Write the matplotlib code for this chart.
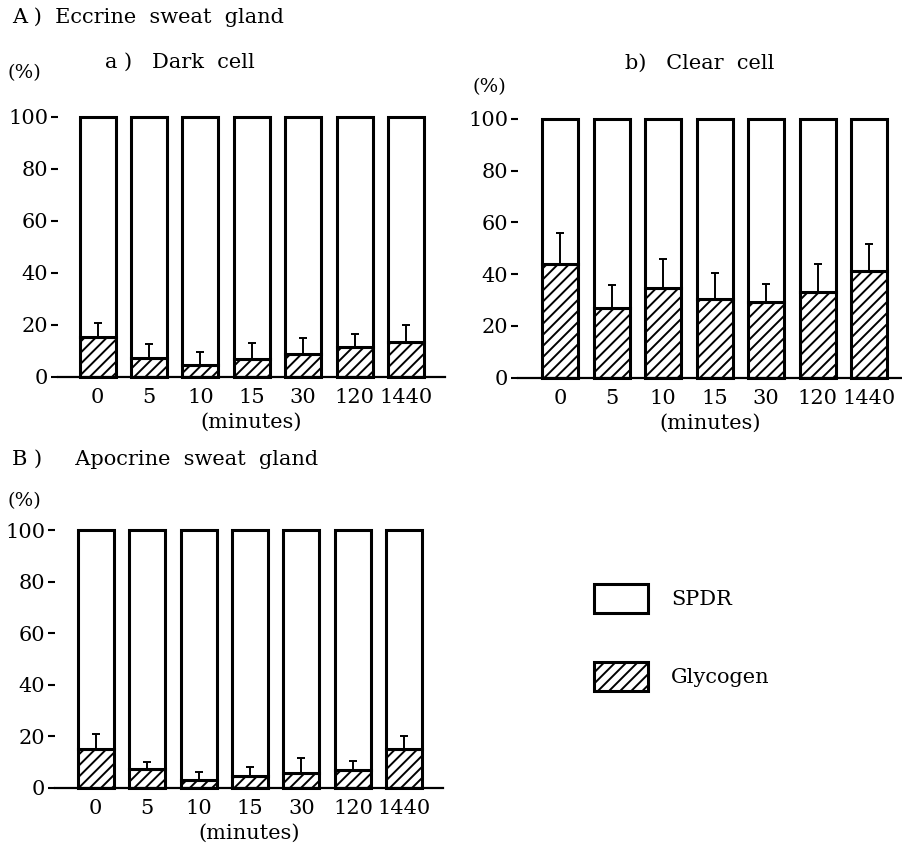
import matplotlib
matplotlib.use("Agg")
import matplotlib.pyplot as plt
from matplotlib.patches import Patch

plt.rcParams['font.family'] = ['DejaVu Serif']
plt.rcParams['hatch.linewidth'] = 1.4

categories = ["0", "5", "10", "15", "30", "120", "1440"]

glyc_dark = [15.4, 7.3, 4.5, 7.0, 8.7, 11.5, 13.2]
sd_dark = [5.4, 5.3, 5.1, 6.1, 6.1, 5.0, 6.7]

glyc_clear = [43.8, 27.1, 34.5, 30.5, 29.3, 33.2, 41.2]
sd_clear = [12.0, 8.6, 11.4, 10.1, 6.9, 10.9, 10.5]

glyc_apo = [14.9, 7.1, 2.8, 4.7, 5.8, 6.7, 14.9]
sd_apo = [5.9, 3.0, 3.2, 3.2, 5.7, 3.6, 5.3]

total = 100
yticks = [0, 20, 40, 60, 80, 100]

W, H = 903, 857
fig = plt.figure(figsize=(W / 100, H / 100), dpi=100)


def px_axes(left, right, y0, y100):
    return fig.add_axes([left / W, 1 - y0 / H, (right - left) / W, (y0 - y100) / H])


def draw_panel(ax, glyc, sd, xlim):
    x = list(range(len(categories)))
    spdr = [total - g for g in glyc]
    ax.bar(x, glyc, width=0.7, color='white', edgecolor='black',
           linewidth=2.2, hatch='///', clip_on=False, zorder=2)
    ax.bar(x, spdr, bottom=glyc, width=0.7, color='white', edgecolor='black',
           linewidth=2.2, clip_on=False, zorder=2)
    ax.errorbar(x, glyc, yerr=[[0] * len(sd), sd], fmt='none', ecolor='black',
                elinewidth=1.4, capsize=3, capthick=1.4, zorder=3, clip_on=False)
    ax.set_xlim(*xlim)
    ax.set_ylim(0, 100)
    for s in ['top', 'right', 'left']:
        ax.spines[s].set_visible(False)
    ax.spines['bottom'].set_linewidth(1.6)
    ax.set_yticks(yticks)
    ax.set_yticklabels([str(v) for v in yticks], fontsize=15)
    ax.tick_params(axis='y', direction='out', length=5, width=1.5, pad=2)
    ax.set_xticks(x)
    ax.set_xticklabels(categories, fontsize=15)
    ax.tick_params(axis='x', length=0, pad=8)
    ax.set_xlabel("(minutes)", fontsize=15, labelpad=4)


ax1 = px_axes(58, 445, 376.7, 116.7)
draw_panel(ax1, glyc_dark, sd_dark, (-0.77, 6.76))

ax2 = px_axes(518, 903, 377.7, 119)
draw_panel(ax2, glyc_clear, sd_clear, (-0.82, 6.66))

ax3 = px_axes(55, 443, 787.7, 530)
draw_panel(ax3, glyc_apo, sd_apo, (-0.79, 6.75))

fs = 15
fig.text(12 / W, 1 - 17 / H, "A )  Eccrine  sweat  gland", fontsize=fs, va='center', ha='left')
fig.text(105 / W, 1 - 62 / H, "a )   Dark  cell", fontsize=fs, va='center', ha='left')
fig.text(8 / W, 1 - 73 / H, "(%)", fontsize=fs - 1, va='center', ha='left')
fig.text(625 / W, 1 - 63 / H, "b)   Clear  cell", fontsize=fs, va='center', ha='left')
fig.text(473 / W, 1 - 87 / H, "(%)", fontsize=fs - 1, va='center', ha='left')
fig.text(12 / W, 1 - 459 / H, "B )     Apocrine  sweat  gland", fontsize=fs, va='center', ha='left')
fig.text(8 / W, 1 - 501 / H, "(%)", fontsize=fs - 1, va='center', ha='left')

handles = [Patch(facecolor='white', edgecolor='black', linewidth=2.2),
           Patch(facecolor='white', edgecolor='black', linewidth=2.2, hatch='///')]
fig.legend(handles, ["SPDR", "Glycogen"], loc='upper left',
           bbox_to_anchor=(594 / W, 1 - 584 / H), frameon=False, fontsize=15,
           handlelength=2.6, handleheight=1.75, labelspacing=2.35, handletextpad=1.1,
           borderpad=0, borderaxespad=0)

fig.savefig("out.png", dpi=100)
